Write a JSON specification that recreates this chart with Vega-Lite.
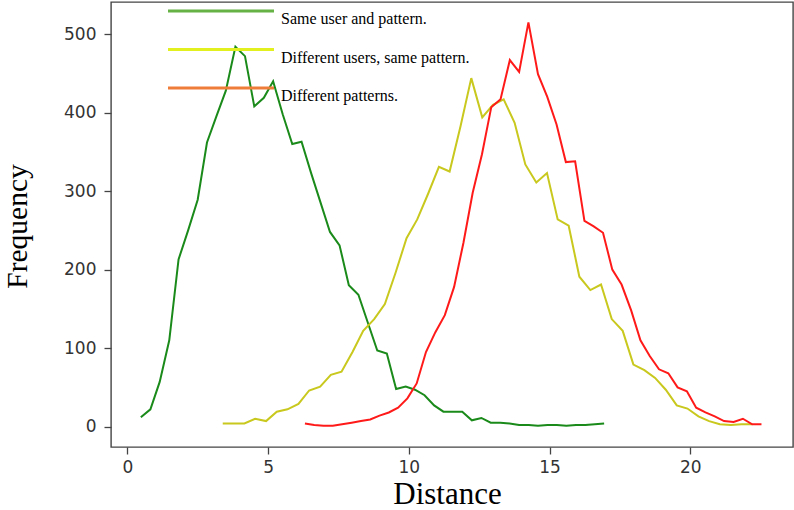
{
  "$schema": "https://vega.github.io/schema/vega-lite/v6.json",
  "width": 682,
  "height": 445,
  "autosize": {"type": "none"},
  "padding": {"left": 111, "top": 2, "right": 1, "bottom": 63},
  "background": "white",
  "config": {"view": {"stroke": "#444444", "strokeWidth": 1.4}, "font": "DejaVu Sans"},
  "datasets": {
    "green": [
      {"d":0.48,"f":12},{"d":0.82,"f":22},{"d":1.15,"f":57},{"d":1.49,"f":110},{"d":1.82,"f":213},{"d":2.16,"f":250},{"d":2.5,"f":289},{"d":2.83,"f":362},{"d":3.17,"f":396},{"d":3.5,"f":428},{"d":3.84,"f":484},{"d":4.18,"f":472},{"d":4.51,"f":408},{"d":4.85,"f":419},{"d":5.18,"f":440},{"d":5.52,"f":398},{"d":5.86,"f":360},{"d":6.19,"f":363},{"d":6.53,"f":323},{"d":6.86,"f":286},{"d":7.2,"f":248},{"d":7.54,"f":231},{"d":7.87,"f":180},{"d":8.21,"f":168},{"d":8.54,"f":133},{"d":8.88,"f":97},{"d":9.22,"f":93},{"d":9.55,"f":48},{"d":9.89,"f":51},{"d":10.22,"f":47},{"d":10.56,"f":40},{"d":10.9,"f":27},{"d":11.23,"f":19},{"d":11.57,"f":19},{"d":11.9,"f":19},{"d":12.24,"f":8},{"d":12.58,"f":11},{"d":12.91,"f":5},{"d":13.25,"f":5},{"d":13.58,"f":4},{"d":13.92,"f":2},{"d":14.26,"f":2},{"d":14.59,"f":1},{"d":14.93,"f":2},{"d":15.26,"f":2},{"d":15.6,"f":1},{"d":15.94,"f":2},{"d":16.27,"f":2},{"d":16.61,"f":3},{"d":16.94,"f":4}
    ],
    "yellow": [
      {"d":3.39,"f":4},{"d":3.77,"f":4},{"d":4.16,"f":4},{"d":4.54,"f":10},{"d":4.93,"f":7},{"d":5.31,"f":19},{"d":5.69,"f":22},{"d":6.08,"f":29},{"d":6.46,"f":46},{"d":6.85,"f":51},{"d":7.23,"f":66},{"d":7.61,"f":70},{"d":8.0,"f":95},{"d":8.38,"f":122},{"d":8.77,"f":137},{"d":9.15,"f":156},{"d":9.53,"f":196},{"d":9.92,"f":240},{"d":10.3,"f":264},{"d":10.69,"f":297},{"d":11.07,"f":331},{"d":11.45,"f":325},{"d":11.84,"f":383},{"d":12.22,"f":444},{"d":12.61,"f":394},{"d":12.99,"f":410},{"d":13.37,"f":417},{"d":13.76,"f":387},{"d":14.14,"f":334},{"d":14.53,"f":311},{"d":14.91,"f":323},{"d":15.29,"f":264},{"d":15.68,"f":256},{"d":16.06,"f":191},{"d":16.45,"f":174},{"d":16.83,"f":181},{"d":17.21,"f":137},{"d":17.6,"f":122},{"d":17.98,"f":79},{"d":18.37,"f":72},{"d":18.75,"f":62},{"d":19.13,"f":47},{"d":19.52,"f":27},{"d":19.9,"f":23},{"d":20.29,"f":13},{"d":20.67,"f":7},{"d":21.05,"f":3},{"d":21.44,"f":2},{"d":21.82,"f":3},{"d":22.21,"f":3}
    ],
    "red": [
      {"d":6.31,"f":4},{"d":6.64,"f":2},{"d":6.97,"f":1},{"d":7.3,"f":1},{"d":7.63,"f":3},{"d":7.97,"f":5},{"d":8.3,"f":7},{"d":8.63,"f":9},{"d":8.96,"f":14},{"d":9.29,"f":18},{"d":9.62,"f":24},{"d":9.95,"f":36},{"d":10.28,"f":55},{"d":10.61,"f":95},{"d":10.94,"f":120},{"d":11.28,"f":142},{"d":11.61,"f":178},{"d":11.94,"f":234},{"d":12.27,"f":298},{"d":12.6,"f":347},{"d":12.93,"f":407},{"d":13.26,"f":417},{"d":13.59,"f":467},{"d":13.92,"f":452},{"d":14.25,"f":515},{"d":14.59,"f":449},{"d":14.92,"f":420},{"d":15.25,"f":385},{"d":15.58,"f":337},{"d":15.91,"f":338},{"d":16.24,"f":262},{"d":16.57,"f":255},{"d":16.9,"f":247},{"d":17.23,"f":200},{"d":17.56,"f":181},{"d":17.9,"f":148},{"d":18.23,"f":110},{"d":18.56,"f":90},{"d":18.89,"f":73},{"d":19.22,"f":68},{"d":19.55,"f":50},{"d":19.88,"f":45},{"d":20.21,"f":24},{"d":20.54,"f":18},{"d":20.87,"f":13},{"d":21.2,"f":7},{"d":21.54,"f":6},{"d":21.87,"f":10},{"d":22.2,"f":3},{"d":22.53,"f":3}
    ]
  },
  "layer": [
    {
      "data": {"name": "green"},
      "mark": {"type": "line", "strokeWidth": 2, "color": "#1a8a1a"},
      "encoding": {
        "x": {"field": "d", "type": "quantitative"},
        "y": {"field": "f", "type": "quantitative"}
      }
    },
    {
      "data": {"name": "yellow"},
      "mark": {"type": "line", "strokeWidth": 2, "color": "#c8c81e"},
      "encoding": {
        "x": {"field": "d", "type": "quantitative"},
        "y": {"field": "f", "type": "quantitative"}
      }
    },
    {
      "data": {"name": "red"},
      "mark": {"type": "line", "strokeWidth": 2, "color": "#ff1a1a"},
      "encoding": {
        "x": {
          "field": "d", "type": "quantitative",
          "scale": {"domain": [-0.58, 23.65], "nice": false, "zero": false},
          "axis": {
            "values": [0, 5, 10, 15, 20], "title": "Distance", "grid": false, "domain": false,
            "titleFont": "Liberation Serif", "titleFontSize": 31, "titleFontWeight": "normal", "titleColor": "black",
            "labelFont": "DejaVu Sans", "labelFontSize": 17, "labelColor": "#333333",
            "tickColor": "#444444", "tickSize": 7, "tickWidth": 1.3, "labelPadding": 5,
            "titleX": 336, "titleY": 56, "titleBaseline": "alphabetic", "titleAlign": "center", "titleAnchor": "start"
          }
        },
        "y": {
          "field": "f", "type": "quantitative",
          "scale": {"domain": [-26, 541], "nice": false, "zero": false},
          "axis": {
            "values": [0, 100, 200, 300, 400, 500], "title": "Frequency", "grid": false, "domain": false,
            "titleFont": "Liberation Serif", "titleFontSize": 29.5, "titleFontWeight": "normal", "titleColor": "black",
            "labelFont": "DejaVu Sans", "labelFontSize": 17, "labelColor": "#333333",
            "tickColor": "#444444", "tickSize": 7, "tickWidth": 1.3, "labelPadding": 8,
            "titleX": -94, "titleY": 224, "titleBaseline": "middle", "titleAlign": "center", "titleAngle": -90, "titleAnchor": "start"
          }
        }
      }
    },
    {
      "data": {"name": "red"},
      "transform": [{"calculate": "'Different patterns.'", "as": "series"}],
      "mark": {"type": "point", "filled": false, "size": 0, "opacity": 0},
      "encoding": {
        "x": {"field": "d", "type": "quantitative"},
        "y": {"field": "f", "type": "quantitative"},
        "color": {
          "field": "series", "type": "nominal",
          "scale": {
            "domain": ["Same user and pattern.", "Different users, same pattern.", "Different patterns."],
            "range": ["#66b245", "#e2f020", "#ef7d3a"]
          },
          "legend": {
            "orient": "none", "legendX": 49, "legendY": 1, "title": null, "padding": 0,
            "symbolType": "M0,0H106", "symbolSize": 4, "symbolStrokeWidth": 3, "symbolFillColor": "transparent", "symbolOpacity": 1,
            "labelFont": "Liberation Serif", "labelFontSize": 16, "labelColor": "black", "labelLimit": 400,
            "labelOffset": 105, "labelBaseline": "top", "rowPadding": 14.5
          }
        }
      }
    }
  ]
}
